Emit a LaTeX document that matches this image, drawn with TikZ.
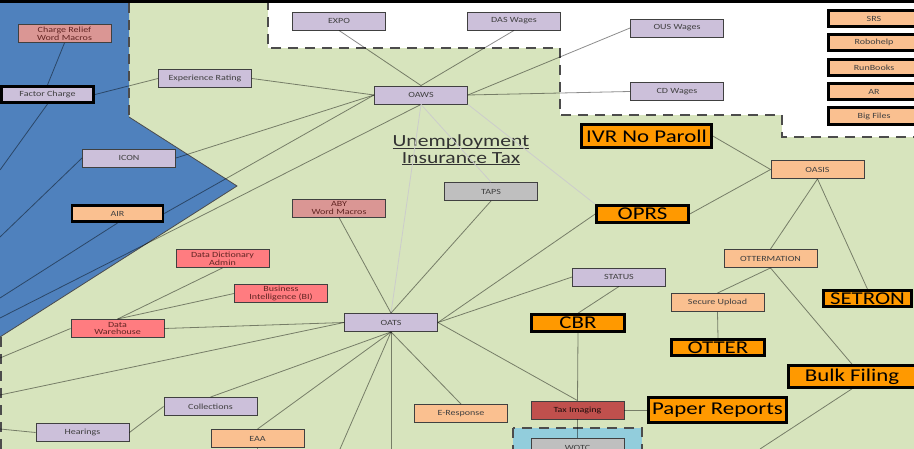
\documentclass[tikz,border=0pt]{standalone}
\usepackage{fontspec}
\setmainfont{Carlito}[FakeStretch=1.27]
\usetikzlibrary{positioning}

\definecolor{bgGreen}{RGB}{215,228,189}
\definecolor{bgBlue}{RGB}{79,129,189}
\definecolor{bgAqua}{RGB}{146,205,220}
\definecolor{lavender}{RGB}{204,192,218}
\definecolor{peach}{RGB}{250,192,144}
\definecolor{rose}{RGB}{218,150,148}
\definecolor{salmon}{RGB}{255,124,128}
\definecolor{brick}{RGB}{192,80,77}
\definecolor{silver}{RGB}{191,191,191}
\definecolor{amber}{RGB}{255,153,0}
\definecolor{maroon}{RGB}{99,37,35}

% underline that sits just under the baseline
\newcommand{\titleline}[1]{\setbox0\hbox{#1}\rlap{\rule[-2.2pt]{\wd0}{1.1pt}}\box0}

\tikzset{
  sys/.style={draw=black!75, line width=0.9pt, minimum width=93pt, minimum height=18pt,
    inner sep=0pt, align=center, text=black!75, font=\fontsize{7.9}{7.6}\selectfont},
  keysys/.style={sys, draw=black, line width=2.6pt, minimum width=91pt, minimum height=16.5pt},
  big/.style={keysys, fill=amber, text=black, font=\fontsize{18}{18}\selectfont},
  link/.style={draw=black, draw opacity=0.45, line width=0.8pt},
  faint/.style={draw=black!20, line width=0.8pt},
  zone/.style={draw=black!70, line width=1.3pt, dash pattern=on 10pt off 7pt},
}

\begin{document}
\begin{tikzpicture}[x=1pt,y=-1pt]
\useasboundingbox (0,0) rectangle (914,449);

% areas
\fill[bgGreen] (0,0) rectangle (914,449);
\draw[zone, fill=white] (268,0) -- (268,48) -- (560,48) -- (560,115) -- (782,115) -- (782,137) -- (916,137) -- (916,0);
\fill[bgBlue] (0,0) -- (129,0) -- (129,117) -- (237,186) -- (0,337) -- cycle;
\draw[black!70, line width=0.8pt] (129,117) -- (237,186) -- (0,337);
\draw[zone] (129,3) -- (129,117);
\draw[zone] (1,337) -- (1,449);
\draw[zone, fill=bgAqua] (513,428) rectangle (642,470);
\fill[black] (0,0) rectangle (914,3);

\node[text=black!80, font=\fontsize{17}{16.5}\selectfont, align=center] (title) at (461,150)
  {\titleline{Unemployment}\\\titleline{Insurance Tax}};

% systems
\node[sys, fill=rose, text=maroon] (crwm) at (64.5,33.5) {Charge Relief\\Word Macros};
\node[keysys, fill=lavender, minimum width=92.5pt] (factor) at (47.5,94.5) {Factor Charge};
\node[sys, fill=lavender] (exprate) at (205,78.5) {Experience Rating};
\node[sys, fill=lavender] (icon) at (129,158) {ICON};
\node[keysys, fill=peach] (air) at (117.5,213.5) {AIR};
\node[sys, fill=lavender] (expo) at (339,21) {EXPO};
\node[sys, fill=lavender] (daswages) at (514,21) {DAS Wages};
\node[sys, fill=lavender] (oaws) at (421,95) {OAWS};
\node[sys, fill=silver] (taps) at (491,191.5) {TAPS};
\node[sys, fill=rose, text=maroon] (aby) at (339,208) {ABY\\Word Macros};
\node[sys, fill=lavender] (ouswages) at (677,28) {OUS Wages};
\node[sys, fill=lavender] (cdwages) at (677,91.5) {CD Wages};
\node[keysys, fill=peach] (srs) at (874,18.5) {SRS};
\node[keysys, fill=peach] (robohelp) at (874,42.5) {Robohelp};
\node[keysys, fill=peach] (runbooks) at (874,67.5) {RunBooks};
\node[keysys, fill=peach] (ar) at (874,91.5) {AR};
\node[keysys, fill=peach] (bigfiles) at (874,116) {Big Files};
\node[big, minimum width=130pt, minimum height=23pt] (ivr) at (646.5,136) {IVR No Paroll};
\node[sys, fill=peach] (oasis) at (817.5,169.5) {OASIS};
\node[big, minimum width=92pt, minimum height=17pt] (oprs) at (642.5,214) {OPRS};
\node[sys, fill=salmon, text=maroon] (datadict) at (222.5,258.5) {Data Dictionary\\Admin};
\node[sys, fill=salmon, text=maroon] (bi) at (281,293.5) {Business\\Intelligence (BI)};
\node[sys, fill=salmon, text=maroon] (datawh) at (117.5,328.5) {Data\\Warehouse};
\node[sys, fill=lavender] (collections) at (210.5,406.5) {Collections};
\node[sys, fill=lavender] (hearings) at (82.5,432.5) {Hearings};
\node[sys, fill=peach] (eaa) at (257.5,438.5) {EAA};
\node[sys, fill=lavender] (oats) at (391,322.5) {OATS};
\node[sys, fill=lavender] (status) at (619,277) {STATUS};
\node[big, minimum width=93pt, minimum height=17pt] (cbr) at (578,323) {CBR};
\node[sys, fill=peach] (eresponse) at (461,413.5) {E-Response};
\node[sys, fill=brick, text=black!85!brick] (taximg) at (577.5,410) {Tax Imaging};
\node[sys, fill=silver] (wotc) at (577.5,447.5) {WOTC};
\node[sys, fill=peach] (ottermation) at (770.5,258.5) {OTTERMATION};
\node[sys, fill=peach] (secure) at (717.5,302.5) {Secure Upload};
\node[big, minimum width=88pt, minimum height=16pt] (setron) at (867.5,298.5) {SETRON};
\node[big, minimum width=93pt, minimum height=16pt] (otter) at (718,347.5) {OTTER};
\node[big, minimum width=127pt, minimum height=22pt] (bulk) at (852,376.5) {Bulk Filing};
\node[big, minimum width=138pt, minimum height=25pt] (paper) at (717.5,410) {Paper Reports};

% ends running off the page
\coordinate (fcOff) at (0,170);
\coordinate (iconOff) at (0,237);
\coordinate (airOff) at (0,298);
\coordinate (oawsOff) at (0,318);
\coordinate (dwOff) at (0,358);
\coordinate (oatsOff) at (0,395);
\coordinate (hearOff) at (0,429);
\coordinate (oatsDownA) at (340,449);
\coordinate (oatsDownB) at (391,449);
\coordinate (eaaOff) at (257.5,449);
\coordinate (bulkOff) at (760,449);

% links
\draw[link] (crwm.south) -- (factor.north);
\draw[link] (factor.south) -- (fcOff);
\draw[link] (factor.east) -- (exprate.west);
\draw[link] (exprate.east) -- (oaws.west);
\draw[link] (icon.east) -- (oaws.west);
\draw[link] (icon.west) -- (iconOff);
\draw[link] (air.east) -- (oaws.west);
\draw[link] (air.south) -- (airOff);
\draw[link] (oaws.south) -- (oawsOff);
\draw[link] (expo.south) -- (oaws.north);
\draw[link] (daswages.south) -- (oaws.north);
\draw[link] (oaws.east) -- (ouswages.west);
\draw[link] (oaws.east) -- (cdwages.west);
\draw[faint] (oaws.south) -- (oats.north);
\draw[faint] (oaws.south) -- (taps.north);
\draw[faint] (oaws.south east) -- (oprs.north west);
\draw[link] (aby.south) -- (oats.north);
\draw[link] (taps.south) -- (oats.north);
\draw[link] (oats.east) -- (oprs.west);
\draw[link] (oats.east) -- (status.west);
\draw[link] (oats.east) -- (taximg.north);
\draw[link] (oats.west) -- (datawh.east);
\draw[link] (oats.west) -- (oatsOff);
\draw[link] (datadict.south) -- (datawh.north);
\draw[link] (bi.west) -- (datawh.north);
\draw[link] (datawh.west) -- (dwOff);
\draw[link] (oats.south) -- (collections.north);
\draw[link] (oats.south) -- (eaa.north);
\draw[link] (oats.south) -- (oatsDownA);
\draw[link] (oats.south) -- (oatsDownB);
\draw[link] (oats.south) -- (eresponse.north);
\draw[link] (collections.west) -- (hearings.east);
\draw[link] (hearings.west) -- (hearOff);
\draw[link] (eaa.south) -- (eaaOff);
\draw[link] (status.south) -- (cbr.north);
\draw[link] (cbr.south) -- (taximg.north);
\draw[link] (taximg.south) -- (wotc.north);
\draw[link] (taximg.east) -- (paper.west);
\draw[link] (ivr.east) -- (oasis.west);
\draw[link] (oprs.east) -- (oasis.west);
\draw[link] (oasis.south) -- (ottermation.north);
\draw[link] (oasis.south) -- (setron.north);
\draw[link] (ottermation.south) -- (secure.north);
\draw[link] (ottermation.south) -- (bulk.north);
\draw[link] (secure.south) -- (otter.north);
\draw[link] (bulk.south) -- (bulkOff);
\end{tikzpicture}
\end{document}
